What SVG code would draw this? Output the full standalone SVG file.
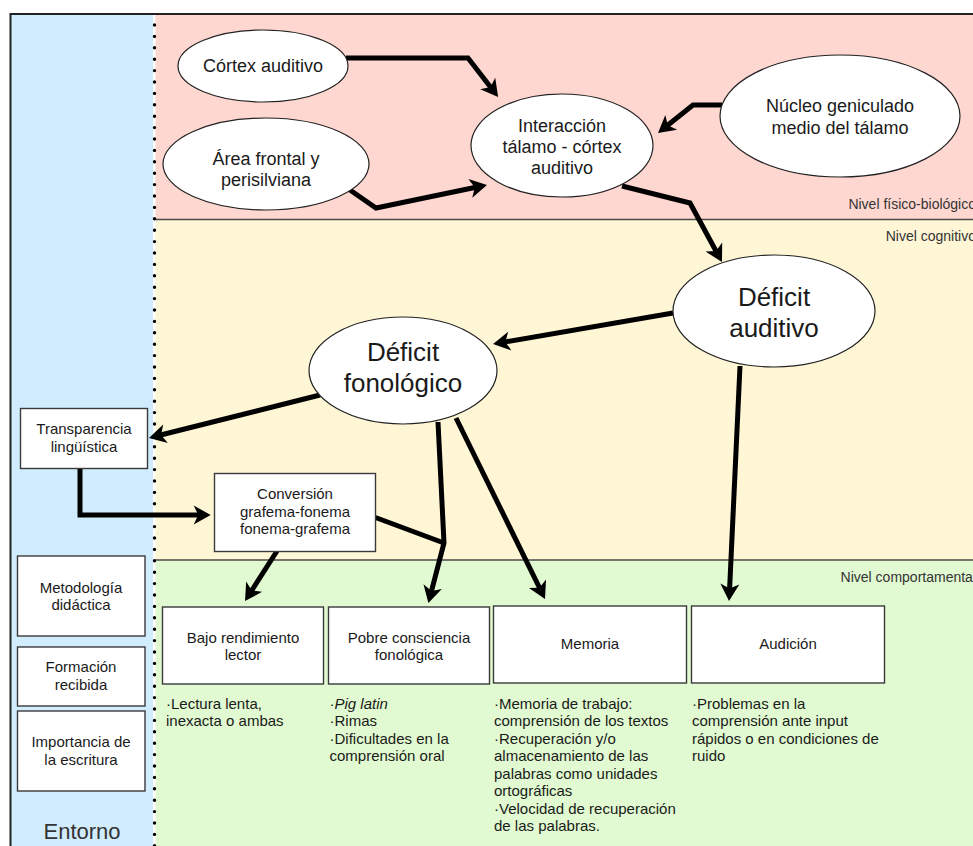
<svg xmlns="http://www.w3.org/2000/svg" width="973" height="846" viewBox="0 0 973 846">
  <style>
    text { font-family: "Liberation Sans", Arial, Helvetica, sans-serif; fill: #1a1a1a; }
    .ell { fill: #ffffff; stroke: #222222; stroke-width: 1.2; }
    .box { fill: #ffffff; stroke: #3a3a3a; stroke-width: 1.4; }
    .t18 { font-size: 18px; text-anchor: middle; }
    .t26 { font-size: 26px; text-anchor: middle; }
    .t15 { font-size: 15px; text-anchor: middle; }
    .note { font-size: 15px; }
    .level { font-size: 14px; text-anchor: end; fill: #333333; }
    .conn { fill: none; stroke: #000000; stroke-width: 5; stroke-linejoin: miter; }
    .arr { marker-end: url(#arrow); }
  </style>
  <defs>
    <marker id="arrow" markerUnits="userSpaceOnUse" orient="auto" markerWidth="30" markerHeight="30" viewBox="-15 -15 30 30" refX="0" refY="0" overflow="visible">
      <path d="M10,0 L-7,-9.5 L-2.5,0 L-7,9.5 Z" fill="#000000"/>
    </marker>
  </defs>

  <!-- background panels -->
  <g id="background">
    <rect x="0" y="0" width="973" height="846" fill="#ffffff"/>
    <rect x="10" y="13" width="143" height="840" fill="#d1ecfd"/>
    <rect x="155.5" y="13" width="820" height="206.5" fill="#ffd7d1"/>
    <rect x="155.5" y="219.5" width="820" height="340.5" fill="#fff6d6"/>
    <rect x="155.5" y="560" width="820" height="290" fill="#e1fad1"/>
    <line x1="155.5" y1="219.5" x2="980" y2="219.5" stroke="#4a4a4a" stroke-width="1.5"/>
    <line x1="155.5" y1="560" x2="980" y2="560" stroke="#4a4a4a" stroke-width="1.5"/>
    <path d="M10.5,850 L10.5,14 L980,14" fill="none" stroke="#222222" stroke-width="2"/>
    <line x1="154.5" y1="25" x2="154.5" y2="846" stroke="#000000" stroke-width="3.4" stroke-linecap="round" stroke-dasharray="0 11.4"/>
    <text class="level" x="976" y="209">Nivel físico-biológico</text>
    <text class="level" x="976" y="241">Nivel cognitivo</text>
    <text class="level" x="976" y="582">Nivel comportamental</text>
    <text x="82" y="839" style="font-size:22px;text-anchor:middle;fill:#333333">Entorno</text>
  </g>

  <!-- connectors -->
  <g id="connectors">
    <path class="conn arr" d="M346,58 L468,58 L492,89"/>
    <path class="conn arr" d="M350,190 L376,208 L477.2,187"/>
    <path class="conn arr" d="M722,105 L693,105 L665.8,126.8"/>
    <path class="conn arr" d="M622,186 L690,203 L717.2,253.2"/>
    <path class="conn arr" d="M673,313 L502.9,342.3"/>
    <path class="conn arr" d="M740,366 L729.5,591"/>
    <path class="conn arr" d="M320,395 L158.7,435.5"/>
    <path class="conn arr" d="M80,468 L80,515 L200.7,515"/>
    <path class="conn arr" d="M438,422 L444,543 L430.9,593.3"/>
    <path class="conn" d="M375.5,517.5 L444,543"/>
    <path class="conn arr" d="M277,551 L250.4,592.6"/>
    <path class="conn arr" d="M456,418 L540.6,590"/>
  </g>

  <!-- physical-biological level -->
  <g id="cortex-auditivo">
    <ellipse class="ell" cx="263" cy="66" rx="85" ry="36"/>
    <text class="t18" x="263" y="71.5">Córtex auditivo</text>
  </g>
  <g id="area-frontal">
    <ellipse class="ell" cx="266" cy="164" rx="103" ry="46"/>
    <text class="t18" x="266" y="165">Área frontal y</text>
    <text class="t18" x="266" y="185.5">perisilviana</text>
  </g>
  <g id="interaccion">
    <ellipse class="ell" cx="562" cy="145.5" rx="91" ry="51.5"/>
    <text class="t18" x="562" y="131.5">Interacción</text>
    <text class="t18" x="562" y="153">tálamo - córtex</text>
    <text class="t18" x="562" y="173.5">auditivo</text>
  </g>
  <g id="nucleo-geniculado">
    <ellipse class="ell" cx="840" cy="116" rx="120" ry="61"/>
    <text class="t18" x="840" y="112">Núcleo geniculado</text>
    <text class="t18" x="840" y="134">medio del tálamo</text>
  </g>

  <!-- cognitive level -->
  <g id="deficit-auditivo">
    <ellipse class="ell" cx="774" cy="311" rx="101" ry="56"/>
    <text class="t26" x="774" y="306">Déficit</text>
    <text class="t26" x="774" y="337">auditivo</text>
  </g>
  <g id="deficit-fonologico">
    <ellipse class="ell" cx="403" cy="370.5" rx="94" ry="53.5"/>
    <text class="t26" x="403" y="361">Déficit</text>
    <text class="t26" x="403" y="392">fonológico</text>
  </g>
  <g id="conversion">
    <rect class="box" x="214.5" y="473.5" width="161" height="78"/>
    <text class="t15" x="295" y="498.5">Conversión</text>
    <text class="t15" x="295" y="516.5">grafema-fonema</text>
    <text class="t15" x="295" y="534">fonema-grafema</text>
  </g>

  <!-- environment -->
  <g id="transparencia">
    <rect class="box" x="20.5" y="408.5" width="127" height="60"/>
    <text class="t15" x="84" y="434">Transparencia</text>
    <text class="t15" x="84" y="451.5">lingüística</text>
  </g>
  <g id="metodologia">
    <rect class="box" x="17.5" y="556" width="127.5" height="80"/>
    <text class="t15" x="81" y="592.5">Metodología</text>
    <text class="t15" x="81" y="609.5">didáctica</text>
  </g>
  <g id="formacion">
    <rect class="box" x="17.5" y="647" width="127.5" height="59"/>
    <text class="t15" x="81" y="672">Formación</text>
    <text class="t15" x="81" y="689.5">recibida</text>
  </g>
  <g id="importancia">
    <rect class="box" x="17.5" y="711" width="127.5" height="80"/>
    <text class="t15" x="81" y="747">Importancia de</text>
    <text class="t15" x="81" y="764.5">la escritura</text>
  </g>

  <!-- behavioural level -->
  <g id="bajo-rendimiento">
    <rect class="box" x="162.5" y="607" width="161" height="77"/>
    <text class="t15" x="243" y="642.5">Bajo rendimiento</text>
    <text class="t15" x="243" y="660">lector</text>
    <text class="note" x="166" y="708.5">·Lectura lenta,</text>
    <text class="note" x="166" y="726">inexacta o ambas</text>
  </g>
  <g id="pobre-consciencia">
    <rect class="box" x="328.5" y="607" width="161" height="77"/>
    <text class="t15" x="409" y="642.5">Pobre consciencia</text>
    <text class="t15" x="409" y="660">fonológica</text>
    <text class="note" x="329.5" y="708.5" font-style="italic">·Pig latin</text>
    <text class="note" x="329.5" y="726">·Rimas</text>
    <text class="note" x="329.5" y="743.5">·Dificultades en la</text>
    <text class="note" x="329.5" y="761">comprensión oral</text>
  </g>
  <g id="memoria">
    <rect class="box" x="493.5" y="606" width="193" height="77"/>
    <text class="t15" x="590" y="649">Memoria</text>
    <text class="note" x="494" y="708.5">·Memoria de trabajo:</text>
    <text class="note" x="494" y="726">comprensión de los textos</text>
    <text class="note" x="494" y="743.5">·Recuperación y/o</text>
    <text class="note" x="494" y="761">almacenamiento de las</text>
    <text class="note" x="494" y="778.5">palabras como unidades</text>
    <text class="note" x="494" y="796">ortográficas</text>
    <text class="note" x="494" y="813.5">·Velocidad de recuperación</text>
    <text class="note" x="494" y="831">de las palabras.</text>
  </g>
  <g id="audicion">
    <rect class="box" x="691.5" y="606" width="193" height="77"/>
    <text class="t15" x="788" y="649">Audición</text>
    <text class="note" x="692" y="708.5">·Problemas en la</text>
    <text class="note" x="692" y="726">comprensión ante input</text>
    <text class="note" x="692" y="743.5">rápidos o en condiciones de</text>
    <text class="note" x="692" y="761">ruido</text>
  </g>
</svg>
